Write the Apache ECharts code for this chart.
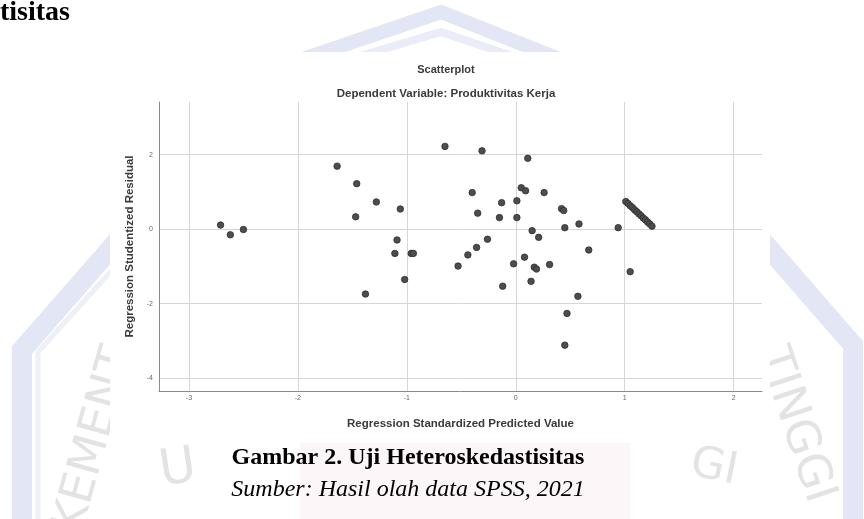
<!DOCTYPE html>
<html>
<head>
<meta charset="utf-8">
<script src="https://cdn.jsdelivr.net/npm/echarts@6/dist/echarts.min.js"></script>
<style>
html,body{margin:0;padding:0;background:#fff;}
#c{width:864px;height:519px;}
</style>
</head>
<body>
<div id="c"></div>
<script>
// Regression Standardized Predicted Value (x) and Regression Studentized Residual (y)
const predicted = [
  -2.71, -2.62, -2.50, -1.64, -1.46, -1.47, -1.28, -1.06, -1.09, -1.11,
  -0.96, -0.94, -1.02, -1.38, -0.65, -0.31, 0.11, -0.40, -0.13, 0.01,
  -0.35, -0.15, 0.01, 0.05, 0.09, 0.26, 0.42, 0.44, 0.45, 0.58,
  0.94, 0.15, 0.21, -0.26, -0.36, -0.44, -0.53, -0.02, 0.08, 0.17,
  0.19, 0.31, 0.67, -0.12, 0.14, 0.57, 0.47, 0.45, 1.05,
  1.01, 1.03, 1.05, 1.07, 1.09, 1.11, 1.13, 1.15, 1.17, 1.19, 1.21, 1.23, 1.25
];
const residual = [
  0.11, -0.15, -0.01, 1.69, 1.22, 0.33, 0.73, 0.54, -0.29, -0.65,
  -0.65, -0.65, -1.35, -1.74, 2.22, 2.10, 1.90, 0.98, 0.71, 0.76,
  0.43, 0.31, 0.31, 1.11, 1.03, 0.98, 0.55, 0.50, 0.04, 0.14,
  0.04, -0.04, -0.22, -0.27, -0.49, -0.69, -0.99, -0.93, -0.75, -1.02,
  -1.07, -0.95, -0.56, -1.53, -1.40, -1.80, -2.26, -3.11, -1.14,
  0.74, 0.69, 0.63, 0.58, 0.52, 0.47, 0.41, 0.36, 0.30, 0.25, 0.19, 0.14, 0.08
];
const xTicks = [-3, -2, -1, 0, 1, 2];
const yTicks = [-4, -2, 0, 2];

const points = predicted.map((x, i) => [x, residual[i]]);

const chart = echarts.init(document.getElementById('c'));
const wm = '#e2e6f5';
const wmText = '#e3e3e3';
chart.setOption({
  backgroundColor: '#fff',
  animation: false,
  title: [
    { text: 'Scatterplot', left: 441, top: 59, textAlign: 'center',
      textStyle: { fontFamily: 'Liberation Sans', fontSize: 11, fontWeight: 'bold', color: '#3a3a3a' } },
    { text: 'Dependent Variable: Produktivitas Kerja', left: 441, top: 83, textAlign: 'center',
      textStyle: { fontFamily: 'Liberation Sans', fontSize: 11.5, fontWeight: 'bold', color: '#3a3a3a' } }
  ],
  graphic: [
    // watermark behind the pasted chart
    { type: 'polyline', z: -20, shape: { points: [[22, 530], [22, 350], [140, 215]] },
      style: { stroke: wm, lineWidth: 20, fill: null } },
    { type: 'polyline', z: -20, shape: { points: [[38, 530], [38, 352], [150, 228]] },
      style: { stroke: '#eef0f8', lineWidth: 5, fill: null } },
    { type: 'polyline', z: -20, shape: { points: [[740, 215], [853, 345], [853, 530]] },
      style: { stroke: wm, lineWidth: 20, fill: null } },
    { type: 'polyline', z: -20, shape: { points: [[300, 60], [441, 12], [562, 60]] },
      style: { stroke: wm, lineWidth: 14, fill: null } },
    { type: 'polyline', z: -20, shape: { points: [[340, 62], [441, 32], [530, 62]] },
      style: { stroke: '#eaedf7', lineWidth: 8, fill: null } },
    { type: 'rect', z: -20, shape: { x: 300, y: 443, width: 330, height: 76 },
      style: { fill: '#fdf6f9' } },
    { type: 'text', z: -19, x: 95, y: 440, rotation: 1.3,
      style: { text: 'KEMENT', fontFamily: 'DejaVu Sans', fontSize: 46, fill: wmText, align: 'center', verticalAlign: 'middle' } },
    { type: 'text', z: -19, x: 178, y: 470, rotation: 0.15,
      style: { text: 'U', fontFamily: 'DejaVu Sans', fontSize: 50, fill: wmText, align: 'center', verticalAlign: 'middle' } },
    { type: 'text', z: -19, x: 795, y: 425, rotation: -1.25,
      style: { text: 'TINGGI', fontFamily: 'DejaVu Sans', fontSize: 46, fill: wmText, align: 'center', verticalAlign: 'middle' } },
    { type: 'text', z: -19, x: 714, y: 468, rotation: -0.2,
      style: { text: 'GI', fontFamily: 'DejaVu Sans', fontSize: 44, fill: wmText, align: 'center', verticalAlign: 'middle' } },
    // pasted chart image (white)
    { type: 'rect', z: -10, shape: { x: 110, y: 52, width: 660, height: 390 },
      style: { fill: '#ffffff' } },
    // document text
    { type: 'text', z: 5, x: 0, y: 27,
      style: { text: 'tisitas', fontFamily: 'Liberation Serif', fontWeight: 'bold', fontSize: 28, fill: '#000', verticalAlign: 'bottom' } },
    { type: 'text', z: 5, x: 408, y: 458,
      style: { text: 'Gambar 2. Uji Heteroskedastisitas', fontFamily: 'Liberation Serif', fontWeight: 'bold', fontSize: 24, fill: '#000', align: 'center', verticalAlign: 'middle' } },
    { type: 'text', z: 5, x: 408, y: 490,
      style: { text: 'Sumber: Hasil olah data SPSS, 2021', fontFamily: 'Liberation Serif', fontStyle: 'italic', fontSize: 24, fill: '#000', align: 'center', verticalAlign: 'middle' } }
  ],
  grid: { left: 159, right: 102, top: 102, bottom: 128, containLabel: false },
  xAxis: {
    type: 'value', min: -3.275, max: 2.26,
    name: 'Regression Standardized Predicted Value', nameLocation: 'middle', nameGap: 27,
    nameTextStyle: { fontFamily: 'Liberation Sans', fontSize: 11.5, fontWeight: 'bold', color: '#3a3a3a' },
    axisLine: { show: true, onZero: false, lineStyle: { color: '#8a8a8a', width: 1 } },
    axisTick: { show: false, customValues: xTicks },
    axisLabel: { customValues: xTicks, fontSize: 7, color: '#666', margin: 4, fontFamily: 'Liberation Sans' },
    splitLine: { show: true, lineStyle: { color: '#d6d6d6', width: 1 } }
  },
  yAxis: {
    type: 'value', min: -4.34, max: 3.41,
    name: 'Regression Studentized Residual', nameLocation: 'middle', nameGap: 23,
    nameTextStyle: { fontFamily: 'Liberation Sans', fontSize: 11.5, fontWeight: 'bold', color: '#3a3a3a' },
    axisLine: { show: true, onZero: false, lineStyle: { color: '#8a8a8a', width: 1 } },
    axisTick: { show: false, customValues: yTicks },
    axisLabel: { customValues: yTicks, fontSize: 7, color: '#666', margin: 6, fontFamily: 'Liberation Sans' },
    splitLine: { show: true, lineStyle: { color: '#d6d6d6', width: 1 } }
  },
  series: [{
    type: 'scatter',
    data: points,
    symbol: 'circle',
    symbolSize: 6.5,
    itemStyle: { color: '#4d4d4d', borderColor: '#2e2e2e', borderWidth: 0.8, opacity: 1 }
  }]
});
</script>
</body>
</html>
